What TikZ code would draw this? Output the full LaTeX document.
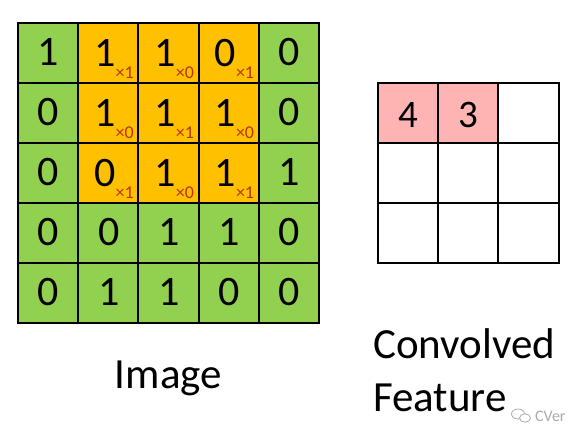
\documentclass[tikz,border=0pt]{standalone}
\usepackage{fontspec}
\setmainfont{Carlito}
\definecolor{cellgreen}{RGB}{146,208,80}
\definecolor{cellorange}{RGB}{255,192,0}
\definecolor{cellpink}{RGB}{255,180,180}
\definecolor{subred}{RGB}{190,50,0}
\definecolor{wmgray}{RGB}{170,170,170}
\begin{document}
\begin{tikzpicture}[x=1pt,y=-1pt,
  cell/.style={draw=black,line width=2pt,minimum width=60.2pt,minimum height=60pt,inner sep=0pt,outer sep=0pt,anchor=north west},
  digit/.style={font=\fontsize{42}{42}\selectfont,inner sep=0pt,anchor=base},
  rdigit/.style={font=\fontsize{39}{39}\selectfont,inner sep=0pt,anchor=base},
  weight/.style={font=\fontsize{18}{18}\selectfont,text=subred,inner sep=0pt,anchor=base east},
  caption/.style={font=\fontsize{43}{52}\selectfont,inner sep=0pt}]
\useasboundingbox (0,0) rectangle (584,439);
% input image
\foreach \row/\vals in {1/{1,1,1,0,0},2/{0,1,1,1,0},3/{0,0,1,1,1},4/{0,0,1,1,0},5/{0,1,1,0,0}}{
  \foreach \v [count=\col] in \vals {
    \pgfmathsetmacro\cx{18+(\col-1)*60.2}
    \pgfmathsetmacro\cy{23+(\row-1)*60}
    \pgfmathtruncatemacro\inker{(\row<=3)&&(\col>=2)&&(\col<=4)}
    \ifnum\inker=1
      \node[cell,fill=cellorange] (c-\row-\col) at (\cx,\cy) {};
      \node[digit] (d-\row-\col) at (\cx+27,\cy+43) {\v};
    \else
      \node[cell,fill=cellgreen] (c-\row-\col) at (\cx,\cy) {};
      \node[digit] (d-\row-\col) at (\cx+30.6,\cy+42) {\v};
    \fi
  }
}
% kernel weights
\foreach \row/\ws in {1/{1,0,1},2/{0,1,0},3/{1,0,1}}{
  \foreach \w [count=\k] in \ws {
    \pgfmathtruncatemacro\col{\k+1}
    \node[weight] (w-\row-\col) at ([xshift=-4.5pt,yshift=5pt]c-\row-\col.south east) {×\w};
  }
}
% convolved feature
\foreach \row in {1,2,3}{
  \foreach \col in {1,2,3}{
    \pgfmathsetmacro\cx{378+(\col-1)*60.2}
    \pgfmathsetmacro\cy{83+(\row-1)*60}
    \pgfmathtruncatemacro\filled{(\row==1)&&(\col<=2)}
    \ifnum\filled=1
      \node[cell,fill=cellpink] (f-\row-\col) at (\cx,\cy) {};
    \else
      \node[cell,fill=white] (f-\row-\col) at (\cx,\cy) {};
    \fi
  }
}
\node[rdigit] (r-1) at ([yshift=-44pt]f-1-1.north) {4};
\node[rdigit] (r-2) at ([yshift=-44pt]f-1-2.north) {3};
% captions
\node[caption,anchor=base] (img) at (168.5,388) {Image};
\node[caption,anchor=base west] (conv) at (373,358) {Convolved};
\node[caption,anchor=base west] (feat) at (373,411) {Feature};
% watermark
\draw[wmgray,line width=0.8pt] (518,414) ellipse[x radius=6.5pt,y radius=5pt];
\draw[wmgray,line width=0.8pt,fill=white] (525,418) ellipse[x radius=5.5pt,y radius=4.2pt];
\node[font=\fontsize{16}{16}\selectfont,text=wmgray,inner sep=0pt,anchor=base west] (wm) at (535,421) {CVer};
\end{tikzpicture}
\end{document}
